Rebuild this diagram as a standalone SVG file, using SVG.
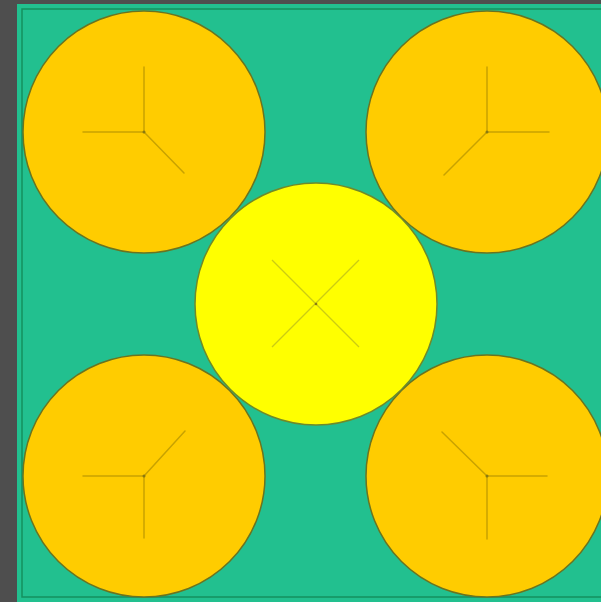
<svg xmlns="http://www.w3.org/2000/svg" width="601" height="602" viewBox="0 0 601 602">
  <style>
    .bg { fill: #4e4e4e; }
    .board { fill: #22c08f; }
    .frame { fill: none; stroke: #14905f; stroke-width: 1.5; }
    .orange { fill: #ffcc00; stroke: #6a7420; stroke-width: 1.5; }
    .yellow { fill: #ffff00; stroke: #6f8a2a; stroke-width: 1.5; }
    .spoke { stroke: #9a7f00; stroke-width: 1.5; stroke-opacity: 0.55; fill: none; stroke-linecap: round; }
    .cross { stroke: #a8a820; stroke-width: 1.3; stroke-opacity: 0.6; fill: none; }
    .hub { fill: #8a7a10; }
  </style>
  <rect class="bg" x="0" y="0" width="601" height="602"/>
  <rect class="board" x="17" y="4" width="600" height="610"/>
  <rect class="frame" x="22" y="9" width="600" height="588"/>

  <g id="circle-top-left">
    <circle class="orange" cx="144" cy="132" r="121"/>
    <path class="spoke" d="M144 132 V67 M144 132 H83 M144 132 L184 173"/>
    <circle class="hub" cx="144" cy="132" r="1.5"/>
  </g>
  <g id="circle-top-right">
    <circle class="orange" cx="487" cy="132" r="121"/>
    <path class="spoke" d="M487 132 V67 M487 132 H549 M487 132 L444 175"/>
    <circle class="hub" cx="487" cy="132" r="1.5"/>
  </g>
  <g id="circle-bottom-left">
    <circle class="orange" cx="144" cy="476" r="121"/>
    <path class="spoke" d="M144 476 V538 M144 476 H83 M144 476 L185 431"/>
    <circle class="hub" cx="144" cy="476" r="1.5"/>
  </g>
  <g id="circle-bottom-right">
    <circle class="orange" cx="487" cy="476" r="121"/>
    <path class="spoke" d="M487 476 V539 M487 476 H547 M487 476 L442 432"/>
    <circle class="hub" cx="487" cy="476" r="1.5"/>
  </g>
  <g id="circle-center">
    <circle class="yellow" cx="316" cy="304" r="121"/>
    <path class="cross" d="M272 260 L359 347 M359 260 L272 347"/>
    <circle class="hub" cx="316" cy="304" r="1.3"/>
  </g>
</svg>
